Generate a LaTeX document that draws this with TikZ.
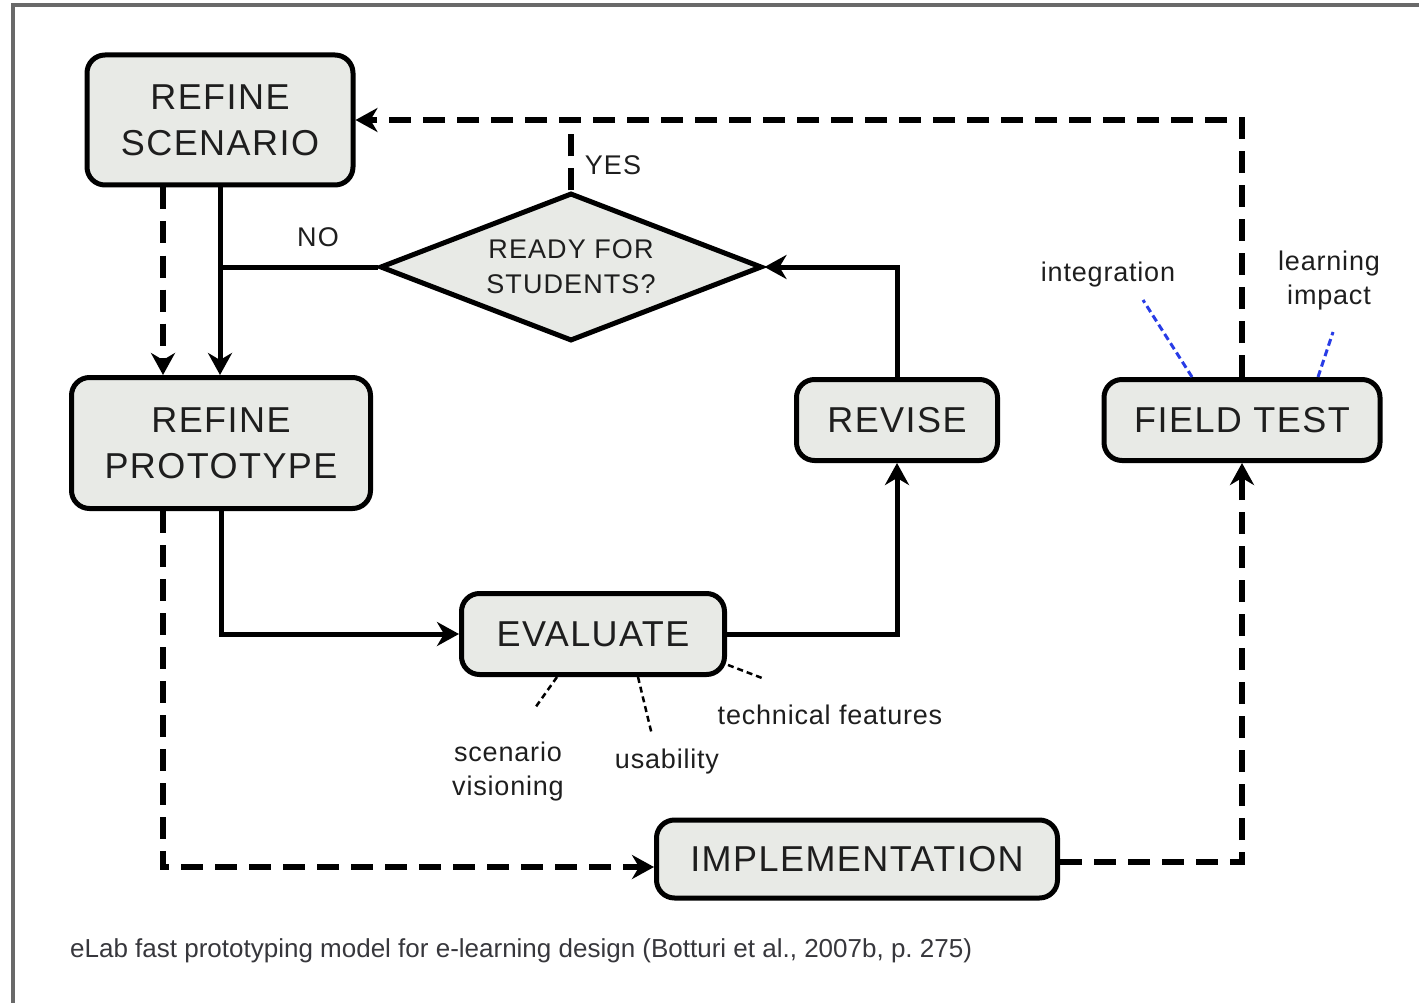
\documentclass[tikz,border=0pt]{standalone}
\usepackage{fontspec}
\setmainfont{Liberation Sans}
\newfontfamily\boxfont[LetterSpace=4]{Liberation Sans}
\newfontfamily\notefont[LetterSpace=3]{Liberation Sans}
\usetikzlibrary{arrows.meta,shapes.geometric}
\definecolor{boxgray}{RGB}{232,234,230}
\definecolor{noteblue}{RGB}{40,60,230}
\definecolor{framegray}{RGB}{105,105,105}
\definecolor{inkgray}{RGB}{30,30,30}
\definecolor{capgray}{RGB}{55,55,60}
\begin{document}
\begin{tikzpicture}[x=1pt,y=-1pt,
  box/.style={draw=black, line width=5pt, fill=boxgray, rounded corners=18pt,
    inner sep=0pt, align=center, text=inkgray,
    font={\boxfont\fontsize{36}{46}\selectfont}},
  decision/.style={diamond, draw=black, line width=5pt, fill=boxgray,
    inner sep=0pt, align=center, text=inkgray,
    font={\boxfont\fontsize{27}{35}\selectfont}},
  branchlabel/.style={text=inkgray, inner sep=0pt,
    font={\boxfont\fontsize{27}{35}\selectfont}},
  note/.style={text=inkgray, inner sep=0pt, align=center,
    font={\notefont\fontsize{27}{34}\selectfont}},
  tip/.style={-{Stealth[length=22pt,width=24pt,inset=7pt]}},
  flow/.style={line width=5pt},
  plan/.style={line width=6pt, dash pattern=on 22pt off 12pt},
  aspect line/.style={line width=2.5pt, dash pattern=on 6pt off 4pt},
  field line/.style={line width=3pt, noteblue, dash pattern=on 7pt off 4pt}
]
\useasboundingbox (0,0) rectangle (1419,1003);

% frame
\draw[framegray, line width=3.5pt] (13,1003) -- (13,5) -- (1419,5);

% process boxes
\node[box, minimum width=266pt, minimum height=130pt] (rs) at (220,120) {REFINE\\SCENARIO};
\node[box, minimum width=299pt, minimum height=131pt] (rp) at (221,443) {REFINE\\PROTOTYPE};
\node[decision, minimum width=382pt, minimum height=148pt, aspect=2.58] (dia) at (571,267) {READY FOR\\STUDENTS?};
\node[box, minimum width=201pt, minimum height=81pt] (rev) at (897,420) {REVISE};
\node[box, minimum width=276pt, minimum height=81pt] (ft) at (1242,420) {FIELD TEST};
\node[box, minimum width=263pt, minimum height=81pt] (ev) at (593,634) {EVALUATE};
\node[box, minimum width=401pt, minimum height=78pt] (impl) at (857,859) {IMPLEMENTATION};

% branch labels
\node[branchlabel] (yes) at (613,165) {YES};
\node[branchlabel] (no) at (318,237) {NO};

% aspect labels
\node[note] (integ) at (1108,275) {integration};
\node[note] (learn) at (1329,281) {learning\\impact};
\node[note] (tech) at (830,715) {technical features};
\node[note] (usab) at (667,762) {usability};
\node[note] (scen) at (508,772) {scenario\\visioning};

% free ends of the aspect lines
\coordinate (integEnd) at (1143,300);
\coordinate (learnEnd) at (1333,332);
\coordinate (techEnd) at (762,678);
\coordinate (usabEnd) at (652,735);
\coordinate (scenEnd) at (535,708);

% solid flow
\draw[flow, tip] (rs.south) -- (rs.south |- rp.north);
\draw[flow] (dia.west) -- (dia.west -| rs.south);
\draw[flow, tip] (rp.south) |- (ev.west);
\draw[flow, tip] (ev.east) -| (rev.south);
\draw[flow, tip] (rev.north) |- (dia.east);

% dashed flow
\draw[plan, tip] ([xshift=-57pt]rs.south) -- ([xshift=-57pt]rs.south |- rp.north);
\draw[plan, tip] ([xshift=-58pt]rp.south) |- ([yshift=-8pt]impl.west);
\draw[plan, tip] ([yshift=-3pt]impl.east) -| (ft.south);
\draw[plan, tip] (ft.north) |- (rs.east);
\draw[plan] (dia.north) -- (dia.north |- rs.east);

% aspect lines
\draw[aspect line] ([xshift=-36pt]ev.south) -- (scenEnd);
\draw[aspect line] ([xshift=45pt]ev.south) -- (usabEnd);
\draw[aspect line] ([xshift=135pt,yshift=-31pt]ev.center) -- (techEnd);
\draw[field line] ([xshift=-50pt]ft.north) -- (integEnd);
\draw[field line] ([xshift=76pt]ft.north) -- (learnEnd);

% caption
\node[anchor=base west, inner sep=0pt, text=capgray, font={\fontsize{26}{30}\selectfont}] (cap) at (70,957)
  {eLab fast prototyping model for e-learning design (Botturi et al., 2007b, p.~275)};
\end{tikzpicture}
\end{document}
